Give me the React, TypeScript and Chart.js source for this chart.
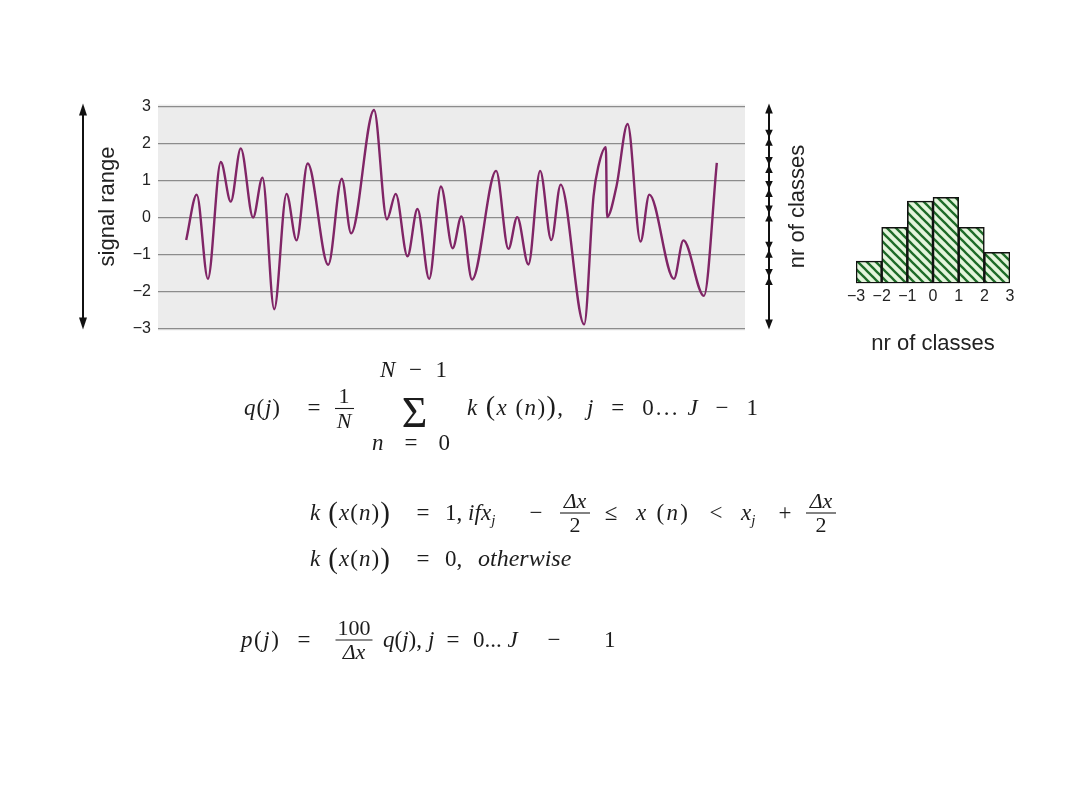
import React, { useEffect, useRef } from "react";
import { Chart, registerables } from "chart.js";

Chart.register(...registerables);
Chart.defaults.font.family = '"Liberation Sans", Arial, Helvetica, sans-serif';
Chart.defaults.color = "#222";

// ---- signal (time in arbitrary units 0..100, amplitude in signal units) ----
const signalT = [
  4.8, 6.6, 8.5, 10.7, 12.4, 14.1, 16.2, 17.8, 19.8, 21.9, 23.6, 25.5, 29.0, 31.3, 32.9,
  36.8, 39.0, 40.5, 42.5, 44.2, 46.2, 48.2, 50.2, 51.7, 53.5, 57.6, 59.7, 61.2, 63.1, 65.1,
  67.0, 68.6, 72.6, 74.2, 75.0, 76.3, 76.5, 78.1, 80.0, 82.2, 83.7, 87.9, 89.5, 93.0, 95.2,
];
const signalV = [
  -0.61, 0.62, -1.66, 1.5, 0.43, 1.87, 0.0, 1.08, -2.48, 0.64, -0.62, 1.46, -1.28, 1.05, -0.43,
  2.91, -0.05, 0.64, -1.05, 0.23, -1.66, 0.84, -0.83, 0.03, -1.68, 1.26, -0.85, 0.01, -1.27, 1.26,
  -0.61, 0.89, -2.89, 0.58, 1.37, 1.9, 0.01, 0.84, 2.53, -0.65, 0.62, -1.66, -0.62, -2.12, 1.48,
];
const signalTicks = [-3, -2, -1, 0, 1, 2, 3];
const classMarks = [2.16, 1.42, 0.77, 0.11, -0.87, -1.61];

// ---- histogram ----
const histCenters = [-2.5, -1.5, -0.5, 0.5, 1.5, 2.5];
const histValues = [6.7, 16.8, 24.7, 25.8, 16.8, 9.3];
const histTicks = [-3, -2, -1, 0, 1, 2, 3];

const fmt = (v: number) => (v < 0 ? "\u2212" + Math.abs(v) : String(v));

function tri(ctx: CanvasRenderingContext2D, x: number, tipY: number, dir: number, len: number, hw: number) {
  ctx.beginPath();
  ctx.moveTo(x, tipY);
  ctx.lineTo(x - hw, tipY - dir * len);
  ctx.lineTo(x + hw, tipY - dir * len);
  ctx.closePath();
  ctx.fill();
}

function makeHatch(): CanvasPattern | string {
  const s = 9;
  const c = document.createElement("canvas");
  c.width = s;
  c.height = s;
  const g = c.getContext("2d");
  if (!g) return "#cfe8c8";
  g.fillStyle = "#e4f5dc";
  g.fillRect(0, 0, s, s);
  g.strokeStyle = "#1d6a27";
  g.lineWidth = 2.3;
  for (const k of [-s, 0, s]) {
    g.beginPath();
    g.moveTo(-1, -1 + k);
    g.lineTo(s + 1, s + 1 + k);
    g.stroke();
  }
  return g.createPattern(c, "repeat") || "#cfe8c8";
}

function SignalChart() {
  const ref = useRef<HTMLCanvasElement>(null);
  useEffect(() => {
    if (!ref.current) return;
    const deco = {
      id: "deco",
      beforeDraw(chart: any) {
        const { ctx, chartArea: a } = chart;
        ctx.save();
        ctx.fillStyle = "#ececec";
        ctx.fillRect(a.left, a.top - 2, a.right - a.left, a.bottom - a.top + 4);
        ctx.restore();
      },
      afterDraw(chart: any) {
        const { ctx, chartArea: a, scales } = chart;
        const y = scales.y;
        const top = y.getPixelForValue(3) - 3;
        const bot = y.getPixelForValue(-3) + 1;
        const midY = (top + bot) / 2 - 10;
        ctx.save();
        ctx.fillStyle = "#111";
        ctx.strokeStyle = "#111";
        // left double arrow
        const lx = a.left - 75;
        ctx.lineWidth = 2;
        ctx.beginPath();
        ctx.moveTo(lx, top + 6);
        ctx.lineTo(lx, bot - 6);
        ctx.stroke();
        tri(ctx, lx, top, -1, 12, 4);
        tri(ctx, lx, bot, 1, 12, 4);
        // right class arrow
        const rx = a.right + 24;
        ctx.beginPath();
        ctx.moveTo(rx, top + 6);
        ctx.lineTo(rx, bot - 6);
        ctx.stroke();
        tri(ctx, rx, top, -1, 10, 3.8);
        tri(ctx, rx, bot, 1, 10, 3.8);
        for (const m of classMarks) {
          const py = y.getPixelForValue(m);
          tri(ctx, rx, py, 1, 8, 3.8);
          tri(ctx, rx, py, -1, 8, 3.8);
        }
        // labels
        ctx.fillStyle = "#222";
        ctx.font = '22px "Liberation Sans", Arial, sans-serif';
        ctx.textAlign = "center";
        ctx.textBaseline = "middle";
        ctx.save();
        ctx.translate(a.left - 50, midY);
        ctx.rotate(-Math.PI / 2);
        ctx.fillText("signal range", 0, 0);
        ctx.restore();
        ctx.save();
        ctx.translate(a.right + 53, midY);
        ctx.rotate(-Math.PI / 2);
        ctx.fillText("nr of classes", 0, 0);
        ctx.restore();
        ctx.restore();
      },
    };
    const chart = new Chart(ref.current, {
      type: "line",
      data: {
        datasets: [
          {
            data: signalT.map((t, i) => ({ x: t, y: signalV[i] })),
            borderColor: "#802566",
            borderWidth: 2.4,
            pointRadius: 0,
            cubicInterpolationMode: "monotone",
            fill: false,
            borderJoinStyle: "round",
          },
        ],
      },
      options: {
        animation: false,
        responsive: false,
        events: [],
        layout: { padding: { top: 13, bottom: 14, left: 0, right: 85 } },
        plugins: { legend: { display: false }, tooltip: { enabled: false } },
        scales: {
          x: { type: "linear", min: 0, max: 100, display: false },
          y: {
            min: -3,
            max: 3,
            afterFit: (s: any) => {
              s.width = 98;
            },
            afterBuildTicks: (s: any) => {
              s.ticks = signalTicks.map((v) => ({ value: v }));
            },
            ticks: { padding: 7, color: "#222", font: { size: 16 }, callback: (v: any) => fmt(Number(v)) },
            grid: { color: "#8c8c8c", lineWidth: 1.3, drawTicks: false },
            border: { display: false },
          },
        },
      } as any,
      plugins: [deco],
    });
    return () => chart.destroy();
  }, []);
  return (
    <canvas
      ref={ref}
      width={770}
      height={255}
      style={{ position: "absolute", left: 60, top: 90, width: 770, height: 255 }}
    />
  );
}

function HistChart() {
  const ref = useRef<HTMLCanvasElement>(null);
  useEffect(() => {
    if (!ref.current) return;
    const chart = new Chart(ref.current, {
      type: "bar",
      data: {
        datasets: [
          {
            data: histCenters.map((c, i) => ({ x: c, y: histValues[i] })),
            backgroundColor: makeHatch() as any,
            borderColor: "#111",
            borderWidth: 1.6,
            borderSkipped: false,
            barPercentage: 1,
            categoryPercentage: 1,
          },
        ],
      },
      options: {
        animation: false,
        responsive: false,
        events: [],
        layout: { padding: { top: 3.3, left: 26, right: 30, bottom: 0 } },
        plugins: { legend: { display: false }, tooltip: { enabled: false } },
        scales: {
          x: {
            type: "linear",
            min: -3,
            max: 3,
            offset: false,
            afterBuildTicks: (s: any) => {
              s.ticks = histTicks.map((v) => ({ value: v }));
            },
            afterFit: (s: any) => {
              s.height = 76.7;
            },
            grid: { display: false, drawTicks: false },
            border: { display: false },
            ticks: {
              padding: 4,
              color: "#222",
              font: { size: 16 },
              maxRotation: 0,
              autoSkip: false,
              callback: (v: any) => fmt(Number(v)),
            },
            title: {
              display: true,
              text: "nr of classes",
              color: "#222",
              font: { size: 22 },
              padding: { top: 0, bottom: 3 },
            },
          },
          y: { display: false, min: 0, max: 30 },
        },
      } as any,
    });
    return () => chart.destroy();
  }, []);
  return (
    <canvas
      ref={ref}
      width={210}
      height={180}
      style={{ position: "absolute", left: 830, top: 180, width: 210, height: 180 }}
    />
  );
}

const serif = '"Liberation Serif", "Times New Roman", Times, serif';
const ink = "#1c1c1c";
const pre = { whiteSpace: "pre" as const };

function I({ children }: { children: React.ReactNode }) {
  return <tspan fontStyle="italic">{children}</tspan>;
}

// text, optionally spaced out to a measured width
function S({ x, y, w, anchor, size, children }: any) {
  return (
    <text
      x={x}
      y={y}
      style={pre}
      textAnchor={anchor || "start"}
      fontSize={size || 23}
      {...(w ? { textLength: w, lengthAdjust: "spacing" } : {})}
    >
      {children}
    </text>
  );
}

function Frac({ cx, y, num, den, w, italicNum, italicDen, size = 22 }: any) {
  return (
    <g>
      <text x={cx} y={y - 6} textAnchor="middle" fontSize={size} fontStyle={italicNum ? "italic" : "normal"}>
        {num}
      </text>
      <line x1={cx - w / 2} x2={cx + w / 2} y1={y - 1} y2={y - 1} stroke={ink} strokeWidth={1.1} />
      <text x={cx} y={y + 18} textAnchor="middle" fontSize={size} fontStyle={italicDen ? "italic" : "normal"}>
        {den}
      </text>
    </g>
  );
}

function KofX({ x, y }: { x: number; y: number }) {
  return (
    <S x={x} y={y} w={80}>
      <I>k</I> <tspan fontSize={29} dy={2}>(</tspan>
      <tspan dy={-2}>
        <I>x</I>(<I>n</I>)
      </tspan>
      <tspan fontSize={29} dy={2}>)</tspan>
    </S>
  );
}

function Xj({ x, y }: any) {
  return (
    <S x={x} y={y}>
      <I>x</I>
      <tspan fontSize={15} dy={5} fontStyle="italic">j</tspan>
    </S>
  );
}

function Formulas() {
  return (
    <svg
      width={1080}
      height={810}
      style={{ position: "absolute", left: 0, top: 0 }}
      fontFamily={serif}
      fontSize={23}
      fill={ink}
    >
      {/* q(j) = 1/N sum k(x(n)), j = 0...J-1 */}
      <S x={244} y={415} w={36}>
        <I>q</I>(<I>j</I>)
      </S>
      <S x={314} y={415} anchor="middle">=</S>
      <text x={344} y={403} textAnchor="middle" fontSize={22}>1</text>
      <line x1={335} x2={354} y1={408.5} y2={408.5} stroke={ink} strokeWidth={1.1} />
      <text x={344} y={428} textAnchor="middle" fontSize={22}>
        <I>N</I>
      </text>
      <S x={380} y={377} w={67}>
        <I>N</I>{"  \u2212  "}1
      </S>
      <text x={414.5} y={427} textAnchor="middle" fontSize={44}>
        {"\u03A3"}
      </text>
      <S x={372} y={450} w={78}>
        <I>n</I>{"  =  "}0
      </S>
      <S x={467} y={415} w={96}>
        <I>k</I> <tspan fontSize={28}>(</tspan>
        <I>x</I> (<I>n</I>)<tspan fontSize={28}>)</tspan>,
      </S>
      <S x={587} y={415} w={171}>
        <I>j</I>{"  =  "}0... <I>J</I>{"  \u2212  "}1
      </S>

      {/* k(x(n)) = 1, if ... */}
      <KofX x={310} y={520} />
      <S x={423} y={520} anchor="middle">=</S>
      <S x={445} y={520}>
        1, <I>if</I>
      </S>
      <Xj x={481} y={520} />
      <S x={536} y={520} anchor="middle">{"\u2212"}</S>
      <Frac cx={575} y={514} num={"\u0394x"} den="2" w={30} italicNum />
      <S x={611} y={520} anchor="middle">{"\u2264"}</S>
      <S x={636} y={520} w={52}>
        <I>x</I> (<I>n</I>)
      </S>
      <S x={716} y={520} anchor="middle">{"<"}</S>
      <Xj x={741} y={520} />
      <S x={785} y={520} anchor="middle">+</S>
      <Frac cx={821} y={514} num={"\u0394x"} den="2" w={30} italicNum />

      {/* k(x(n)) = 0, otherwise */}
      <KofX x={310} y={566} />
      <S x={423} y={566} anchor="middle">=</S>
      <S x={445} y={566}>0,</S>
      <S x={478} y={566} size={24}>
        <I>otherwise</I>
      </S>

      {/* p(j) = 100/dx q(j), j = 0...J-1 */}
      <S x={241} y={647} w={38}>
        <I>p</I>(<I>j</I>)
      </S>
      <S x={304} y={647} anchor="middle">=</S>
      <Frac cx={354} y={641} num="100" den={"\u0394x"} w={37} italicDen />
      <S x={383} y={647}>
        <I>q</I>(<I>j</I>),
      </S>
      <S x={428} y={647}>
        <I>j</I>
      </S>
      <S x={453} y={647} anchor="middle">=</S>
      <S x={473} y={647}>
        0... <I>J</I>
      </S>
      <S x={554} y={647} anchor="middle">{"\u2212"}</S>
      <S x={604} y={647}>1</S>
    </svg>
  );
}

export default function App() {
  return (
    <div style={{ position: "absolute", left: 0, top: 0, width: 1080, height: 810, background: "#fff", overflow: "hidden" }}>
      <SignalChart />
      <HistChart />
      <Formulas />
    </div>
  );
}
